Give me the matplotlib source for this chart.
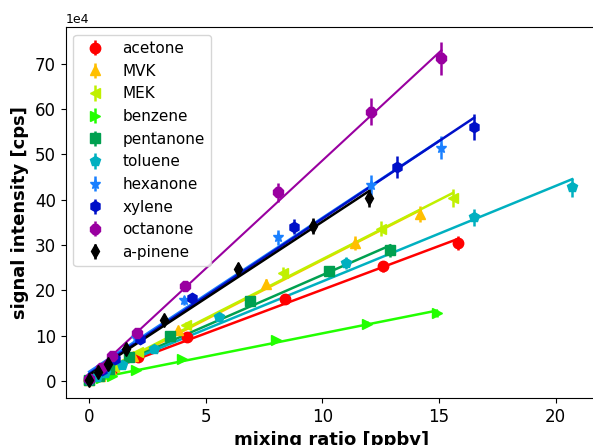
import numpy as np
import matplotlib
matplotlib.use('Agg')
import matplotlib.pyplot as plt

# 每种化合物: 混合比 [ppbv] 与信号强度 [1e4 cps]
names = ['acetone', 'MVK', 'MEK', 'benzene', 'pentanone',
         'toluene', 'hexanone', 'xylene', 'octanone', 'a-pinene']
colors = ['#ff0000', '#ffbf00', '#c0f000', '#22ff00', '#00a050',
          '#00b0c0', '#1a80ff', '#0010c8', '#9900a0', '#000000']
markers = ['o', '^', '<', '>', 's', 'p', '*', 'h', '8', 'd']

acetone_x = [0, 0.5, 1.0, 2.1, 4.2, 8.4, 12.6, 15.8]
acetone_y = [0.3, 1.3, 2.6, 5.4, 9.8, 18.1, 25.3, 30.5]
acetone_err = [0.02, 0.07, 0.13, 0.27, 0.5, 0.9, 1.3, 1.5]

mvk_x = [0, 0.45, 0.95, 1.9, 3.8, 7.6, 11.4, 14.2]
mvk_y = [0.3, 1.2, 2.4, 5.6, 11.3, 21.5, 30.5, 36.9]
mvk_err = [0.02, 0.06, 0.12, 0.28, 0.6, 1.1, 1.5, 1.8]

mek_x = [0, 0.5, 1.05, 2.1, 4.15, 8.3, 12.5, 15.6]
mek_y = [0.3, 1.5, 3.1, 6.4, 12.5, 23.9, 33.6, 40.4]
mek_err = [0.02, 0.08, 0.15, 0.3, 0.6, 1.2, 1.7, 2.0]

benzene_x = [0, 0.5, 1.0, 2.0, 4.0, 8.0, 11.9, 14.9]
benzene_y = [0.2, 0.6, 1.1, 2.4, 4.8, 9.1, 12.7, 15.0]
benzene_err = [0.01, 0.03, 0.06, 0.12, 0.24, 0.45, 0.6, 0.75]

pentanone_x = [0, 0.43, 0.86, 1.72, 3.45, 6.9, 10.3, 12.9]
pentanone_y = [0.2, 1.2, 2.6, 5.3, 9.9, 17.6, 24.2, 28.9]
pentanone_err = [0.01, 0.06, 0.13, 0.27, 0.5, 0.9, 1.2, 1.45]

toluene_x = [0, 0.35, 0.7, 1.4, 2.8, 5.55, 11.0, 16.5, 20.7]
toluene_y = [0.3, 0.9, 1.8, 3.5, 7.2, 14.1, 26.0, 36.1, 42.8]
toluene_err = [0.02, 0.05, 0.09, 0.18, 0.36, 0.7, 1.3, 1.8, 2.1]

hexanone_x = [0, 0.5, 1.0, 2.0, 4.05, 8.1, 12.1, 15.1]
hexanone_y = [0.5, 2.8, 5.0, 9.5, 17.8, 31.7, 43.3, 51.5]
hexanone_err = [0.03, 0.14, 0.25, 0.5, 0.9, 1.6, 2.2, 2.6]

xylene_x = [0, 0.55, 1.1, 2.2, 4.4, 8.8, 13.2, 16.5]
xylene_y = [0.5, 2.5, 5.0, 9.3, 18.3, 34.1, 47.3, 56.0]
xylene_err = [0.03, 0.13, 0.25, 0.47, 0.9, 1.7, 2.4, 2.8]

octanone_x = [0, 0.5, 1.0, 2.05, 4.1, 8.1, 12.1, 15.1]
octanone_y = [0.5, 2.9, 5.5, 10.7, 21.0, 41.6, 59.4, 71.2]
octanone_err = [0.03, 0.15, 0.28, 0.55, 1.05, 2.1, 3.0, 3.6]

apinene_x = [0, 0.4, 0.8, 1.6, 3.2, 6.4, 9.6, 12.0]
apinene_y = [0.3, 2.0, 3.7, 7.2, 13.6, 24.8, 34.2, 40.3]
apinene_err = [0.02, 0.1, 0.19, 0.36, 0.7, 1.25, 1.7, 2.0]

xs = [acetone_x, mvk_x, mek_x, benzene_x, pentanone_x,
      toluene_x, hexanone_x, xylene_x, octanone_x, apinene_x]
ys = [acetone_y, mvk_y, mek_y, benzene_y, pentanone_y,
      toluene_y, hexanone_y, xylene_y, octanone_y, apinene_y]
errs = [acetone_err, mvk_err, mek_err, benzene_err, pentanone_err,
        toluene_err, hexanone_err, xylene_err, octanone_err, apinene_err]

fig = plt.figure(figsize=(5.93, 4.45), dpi=100)
# 原图右侧被裁掉, 右边框落在画布之外
ax = fig.add_axes([0.111, 0.1056, 0.897, 0.833])

for name, c, m, x, y, e in zip(names, colors, markers, xs, ys, errs):
    x = np.array(x)
    y = np.array(y) * 1e4
    e = np.array(e) * 1e4
    ax.errorbar(x, y, yerr=e, fmt=m, color=c, ms=7.5, elinewidth=1.8,
                capsize=0, label=name)
    # 线性拟合
    k, b = np.polyfit(x, y, 1)
    xx = np.array([x.min(), x.max()])
    ax.plot(xx, k * xx + b, color=c, lw=1.8 if name != 'octanone' else 1.5)

ax.set_xlim(-1.0, 21.8)
ax.set_ylim(-3.7e4, 78e4)
ax.ticklabel_format(axis='y', style='sci', scilimits=(4, 4))
ax.yaxis.get_offset_text().set_fontsize(9)
ax.tick_params(labelsize=12)
ax.set_xlabel('mixing ratio [ppbv]', fontsize=13, fontweight='bold')
ax.set_ylabel('signal intensity [cps]', fontsize=13, fontweight='bold')
ax.legend(loc='upper left', fontsize=11)

plt.savefig('out.png', dpi=100)
